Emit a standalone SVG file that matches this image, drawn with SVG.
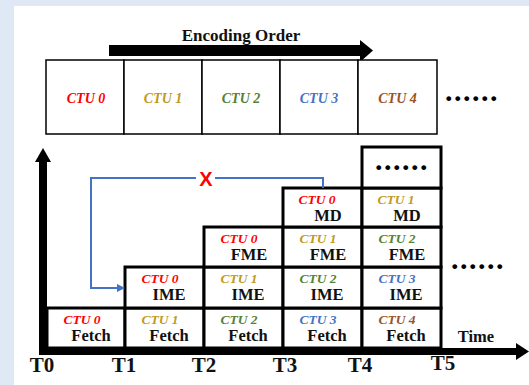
<svg xmlns="http://www.w3.org/2000/svg" width="529" height="385" viewBox="0 0 529 385">
  <defs>
    <style>
      .serif { font-family: "Liberation Serif", "Times New Roman", serif; font-weight: bold; }
      .ctu { font-family: "Liberation Serif", "Times New Roman", serif; font-weight: bold; font-style: italic; font-size: 13.5px; text-anchor: middle; }
      .big { font-size: 14px; }
      .stage { font-family: "Liberation Serif", "Times New Roman", serif; font-weight: bold; font-size: 16.5px; text-anchor: middle; fill: #111; }
      .tick { font-family: "Liberation Serif", "Times New Roman", serif; font-weight: bold; font-size: 21px; text-anchor: middle; fill: #111; }
      .dots { font-family: "Liberation Serif", "Times New Roman", serif; font-weight: bold; font-size: 30px; letter-spacing: 1.5px; fill: #000; }
      .slot { fill: #fff; stroke: #000; stroke-width: 1.5; }
      .cell { fill: #fff; stroke: #000; stroke-width: 3; }
      .c0 { fill: #ff0000; }
      .c1 { fill: #c09a1c; }
      .c2 { fill: #548235; }
      .c3 { fill: #4472c4; }
      .c4 { fill: #9a5326; }
      .link { fill: none; stroke: #4472c4; stroke-width: 2; }
    </style>
    <marker id="blueHead" markerWidth="8" markerHeight="8" refX="7" refY="4" orient="auto" markerUnits="userSpaceOnUse">
      <path d="M0,0 L8,4 L0,8 Z" fill="#4472c4"/>
    </marker>
  </defs>

  <!-- page frame -->
  <rect x="0" y="0" width="529" height="385" fill="#dfe9f5"/>
  <rect x="14" y="6" width="515" height="379" fill="#fff"/>

  <!-- encoding order banner -->
  <g id="encoding-order">
    <text class="serif" x="241" y="41" font-size="17" text-anchor="middle" fill="#111">Encoding Order</text>
    <rect x="109" y="45" width="252" height="11" fill="#000"/>
    <polygon points="360,40 373,50.5 360,62" fill="#000"/>
  </g>

  <!-- CTU sequence -->
  <g id="ctu-row">
    <rect class="slot" x="46" y="60" width="78" height="74"/>
    <rect class="slot" x="124" y="60" width="78" height="74"/>
    <rect class="slot" x="202" y="60" width="78" height="74"/>
    <rect class="slot" x="280" y="60" width="78" height="74"/>
    <rect class="slot" x="358" y="60" width="79" height="74"/>
    <text class="ctu big c0" x="86" y="103">CTU 0</text>
    <text class="ctu big c1" x="163" y="103">CTU 1</text>
    <text class="ctu big c2" x="241" y="103">CTU 2</text>
    <text class="ctu big c3" x="319" y="103">CTU 3</text>
    <text class="ctu big c4" x="397.5" y="103">CTU 4</text>
    <text class="dots" x="445" y="101">......</text>
  </g>

  <!-- axes -->
  <g id="axes">
    <rect x="39" y="160" width="8" height="195" fill="#000"/>
    <polygon points="43,148 35,162 51,162" fill="#000"/>
    <rect x="39" y="348" width="479" height="7" fill="#000"/>
    <polygon points="529,351.5 516,343 516,360" fill="#000"/>
    <text class="stage" x="476" y="342">Time</text>
    <text class="tick" x="42" y="372">T0</text>
    <text class="tick" x="124" y="372">T1</text>
    <text class="tick" x="204" y="372">T2</text>
    <text class="tick" x="285" y="372">T3</text>
    <text class="tick" x="360" y="372">T4</text>
    <text class="tick" x="443" y="370">T5</text>
  </g>

  <!-- pipeline slots: column T0 -->
  <g id="t0-fetch">
    <rect class="cell" x="47" y="308" width="78" height="40"/>
    <text class="ctu c0" x="82" y="324">CTU 0</text>
    <text class="stage" x="91" y="341">Fetch</text>
  </g>

  <!-- column T1 -->
  <g id="t1-fetch">
    <rect class="cell" x="125" y="308" width="79" height="40"/>
    <text class="ctu c1" x="160" y="324">CTU 1</text>
    <text class="stage" x="169" y="341">Fetch</text>
  </g>
  <g id="t1-ime">
    <rect class="cell" x="125" y="267" width="79" height="41"/>
    <text class="ctu c0" x="160" y="283">CTU 0</text>
    <text class="stage" x="169" y="300">IME</text>
  </g>

  <!-- column T2 -->
  <g id="t2-fetch">
    <rect class="cell" x="204" y="308" width="79" height="40"/>
    <text class="ctu c2" x="239" y="324">CTU 2</text>
    <text class="stage" x="248" y="341">Fetch</text>
  </g>
  <g id="t2-ime">
    <rect class="cell" x="204" y="267" width="79" height="41"/>
    <text class="ctu c1" x="239" y="283">CTU 1</text>
    <text class="stage" x="248" y="300">IME</text>
  </g>
  <g id="t2-fme">
    <rect class="cell" x="204" y="227" width="79" height="40"/>
    <text class="ctu c0" x="239" y="243">CTU 0</text>
    <text class="stage" x="249" y="260">FME</text>
  </g>

  <!-- column T3 -->
  <g id="t3-fetch">
    <rect class="cell" x="283" y="308" width="79" height="40"/>
    <text class="ctu c3" x="318" y="324">CTU 3</text>
    <text class="stage" x="327" y="341">Fetch</text>
  </g>
  <g id="t3-ime">
    <rect class="cell" x="283" y="267" width="79" height="41"/>
    <text class="ctu c2" x="318" y="283">CTU 2</text>
    <text class="stage" x="327" y="300">IME</text>
  </g>
  <g id="t3-fme">
    <rect class="cell" x="283" y="227" width="79" height="40"/>
    <text class="ctu c1" x="318" y="243">CTU 1</text>
    <text class="stage" x="328" y="260">FME</text>
  </g>
  <g id="t3-md">
    <rect class="cell" x="283" y="188" width="79" height="39"/>
    <text class="ctu c0" x="317" y="204">CTU 0</text>
    <text class="stage" x="328" y="221">MD</text>
  </g>

  <!-- column T4 -->
  <g id="t4-fetch">
    <rect class="cell" x="362" y="308" width="79" height="40"/>
    <text class="ctu c4" x="397" y="324">CTU 4</text>
    <text class="stage" x="406" y="341">Fetch</text>
  </g>
  <g id="t4-ime">
    <rect class="cell" x="362" y="267" width="79" height="41"/>
    <text class="ctu c3" x="397" y="283">CTU 3</text>
    <text class="stage" x="406" y="300">IME</text>
  </g>
  <g id="t4-fme">
    <rect class="cell" x="362" y="227" width="79" height="40"/>
    <text class="ctu c2" x="397" y="243">CTU 2</text>
    <text class="stage" x="407" y="260">FME</text>
  </g>
  <g id="t4-md">
    <rect class="cell" x="362" y="188" width="79" height="39"/>
    <text class="ctu c1" x="396" y="204">CTU 1</text>
    <text class="stage" x="407" y="221">MD</text>
  </g>
  <g id="t4-more">
    <rect class="cell" x="362" y="147" width="79" height="41"/>
    <text class="dots" x="375" y="170">......</text>
  </g>

  <text class="dots" x="451" y="269">......</text>

  <!-- feedback from MD back to IME, blocked -->
  <g id="connectors">
    <path class="link" d="M323,188 V178 H215 M196,178 H91 V288 H124" marker-end="url(#blueHead)"/>
    <text x="206" y="185.5" font-family="Liberation Sans, Arial, sans-serif" font-weight="bold" font-size="20" fill="#ff0000" text-anchor="middle">X</text>
  </g>
</svg>
